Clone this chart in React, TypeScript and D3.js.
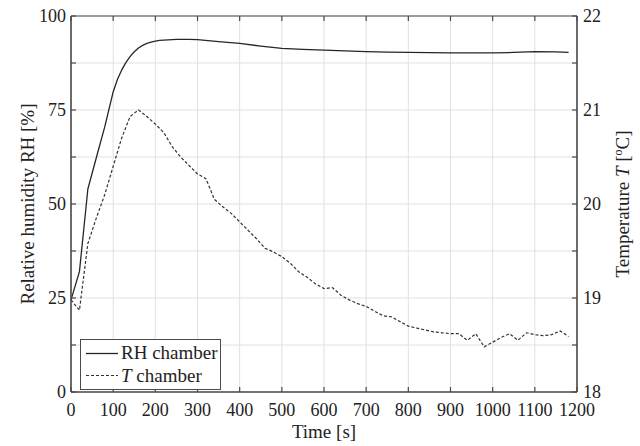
import React from "react";
import * as d3 from "d3";

const rhTime = [0, 20, 40, 60, 80, 100, 110, 120, 130, 140, 150, 160, 170, 180, 190, 200, 210, 220, 250, 280, 300, 350, 400, 450, 500, 550, 600, 650, 700, 750, 800, 850, 900, 950, 1000, 1050, 1100, 1150, 1180];
const rhValues = [24.5, 32, 54, 62.3, 70.5, 79.8, 83.1, 85.6, 87.6, 89.2, 90.5, 91.5, 92.2, 92.7, 93.05, 93.3, 93.5, 93.6, 93.8, 93.8, 93.7, 93.2, 92.7, 92.0, 91.4, 91.1, 90.9, 90.7, 90.5, 90.4, 90.3, 90.25, 90.2, 90.2, 90.2, 90.3, 90.5, 90.45, 90.35];

const tTime = [0, 20, 40, 60, 80, 100, 120, 140, 160, 180, 200, 220, 240, 260, 280, 300, 320, 340, 360, 380, 400, 420, 440, 460, 480, 500, 520, 540, 560, 580, 600, 620, 640, 660, 680, 700, 720, 740, 760, 780, 800, 820, 840, 860, 880, 900, 920, 940, 960, 980, 1000, 1020, 1040, 1060, 1080, 1100, 1120, 1140, 1160, 1180];
const tValues = [18.98, 18.87, 19.58, 19.85, 20.1, 20.4, 20.7, 20.93, 21.0, 20.93, 20.85, 20.76, 20.61, 20.5, 20.41, 20.32, 20.27, 20.05, 19.97, 19.9, 19.81, 19.72, 19.63, 19.53, 19.49, 19.44, 19.37, 19.28, 19.22, 19.15, 19.1, 19.11, 19.03, 18.98, 18.94, 18.91, 18.86, 18.81, 18.8, 18.75, 18.7, 18.68, 18.66, 18.64, 18.63, 18.62, 18.62, 18.55, 18.62, 18.48, 18.53, 18.58, 18.62, 18.55, 18.63, 18.61, 18.6, 18.61, 18.65, 18.59];

const xTicks = [0, 100, 200, 300, 400, 500, 600, 700, 800, 900, 1000, 1100, 1200];
const rhTicks = [0, 12.5, 25, 37.5, 50, 62.5, 75, 87.5, 100];
const rhLabels = [0, 25, 50, 75, 100];
const tTicks = [18, 18.5, 19, 19.5, 20, 20.5, 21, 21.5, 22];
const tLabels = [18, 19, 20, 21, 22];

const W = 640, H = 446;
const L = 71, R = 577, T = 16, B = 392;
const AX = "#4a4a4a";

export default function App() {
  const x = d3.scaleLinear().domain([0, 1200]).range([L, R]);
  const yRH = d3.scaleLinear().domain([0, 100]).range([B, T]);
  const yT = d3.scaleLinear().domain([18, 22]).range([B, T]);

  const rhLine = d3.line<number>().x((_, i) => x(rhTime[i])).y((d) => yRH(d))(rhValues) || "";
  const tLine = d3.line<number>().x((_, i) => x(tTime[i])).y((d) => yT(d))(tValues) || "";

  const tick = 5;
  const ts = { fontFamily: "Liberation Serif", fontSize: "18px", fill: "#222" };
  const ls = { fontFamily: "Liberation Serif", fontSize: "19px", fill: "#222" };
  return (
    <svg width={W} height={H} style={{ position: "absolute", left: 0, top: 0, background: "#fff" }}>
      <rect x={0} y={0} width={W} height={H} fill="#fff" />
      {xTicks.map((v) => (
        <line key={"gx" + v} x1={x(v)} x2={x(v)} y1={T} y2={B} stroke="#e1e1e1" strokeWidth={1} />
      ))}
      {rhTicks.map((v) => (
        <line key={"gy" + v} x1={L} x2={R} y1={yRH(v)} y2={yRH(v)} stroke="#e1e1e1" strokeWidth={1} />
      ))}
      <path d={rhLine} fill="none" stroke="#262626" strokeWidth={1.3} strokeLinejoin="round" />
      <path d={tLine} fill="none" stroke="#333" strokeWidth={1.2} strokeDasharray="3,2" />
      <line x1={L} x2={R} y1={T} y2={T} stroke={AX} strokeWidth={1.2} />
      <line x1={L} x2={R} y1={B} y2={B} stroke={AX} strokeWidth={1.6} />
      <line x1={L} x2={L} y1={T} y2={B} stroke={AX} strokeWidth={1.6} />
      <line x1={R} x2={R} y1={T} y2={B} stroke={AX} strokeWidth={1.6} />
      {xTicks.map((v) => (
        <g key={"xt" + v}>
          <line x1={x(v)} x2={x(v)} y1={B} y2={B - tick} stroke={AX} strokeWidth={1.2} />
          <line x1={x(v)} x2={x(v)} y1={T} y2={T + tick} stroke={AX} strokeWidth={1.2} />
          <text x={x(v)} y={416} textAnchor="middle" style={ts}>{v}</text>
        </g>
      ))}
      {rhTicks.map((v) => (
        <line key={"lt" + v} x1={L} x2={L + tick} y1={yRH(v)} y2={yRH(v)} stroke={AX} strokeWidth={1.2} />
      ))}
      {rhLabels.map((v) => (
        <text key={"ll" + v} x={66} y={yRH(v) + 6} textAnchor="end" style={ts}>{v}</text>
      ))}
      {tTicks.map((v) => (
        <line key={"rt" + v} x1={R} x2={R - tick} y1={yT(v)} y2={yT(v)} stroke={AX} strokeWidth={1.2} />
      ))}
      {tLabels.map((v) => (
        <text key={"rl" + v} x={583} y={yT(v) + 6} textAnchor="start" style={ts}>{v}</text>
      ))}
      <text x={(L + R) / 2} y={438} textAnchor="middle" style={ls}>Time [s]</text>
      <text transform={`translate(34,${(T + B) / 2}) rotate(-90)`} textAnchor="middle" style={ls}>Relative humidity RH [%]</text>
      <text transform={`translate(629,${(T + B) / 2}) rotate(-90)`} textAnchor="middle" style={ls}>
        Temperature <tspan fontStyle="italic">T</tspan> [<tspan dy={-7} style={{ fontSize: "12px" }}>o</tspan><tspan dy={7}>C]</tspan>
      </text>
      <rect x={80.5} y={339.5} width={140} height={50} fill="#fff" stroke={AX} strokeWidth={1} />
      <line x1={86} x2={118} y1={353.5} y2={353.5} stroke="#262626" strokeWidth={1.3} />
      <line x1={86} x2={118} y1={375.5} y2={375.5} stroke="#333" strokeWidth={1.2} strokeDasharray="3,2" />
      <text x={121} y={359} style={ls}>RH chamber</text>
      <text x={121} y={382} style={ls}><tspan fontStyle="italic">T</tspan> chamber</text>
    </svg>
  );
}
